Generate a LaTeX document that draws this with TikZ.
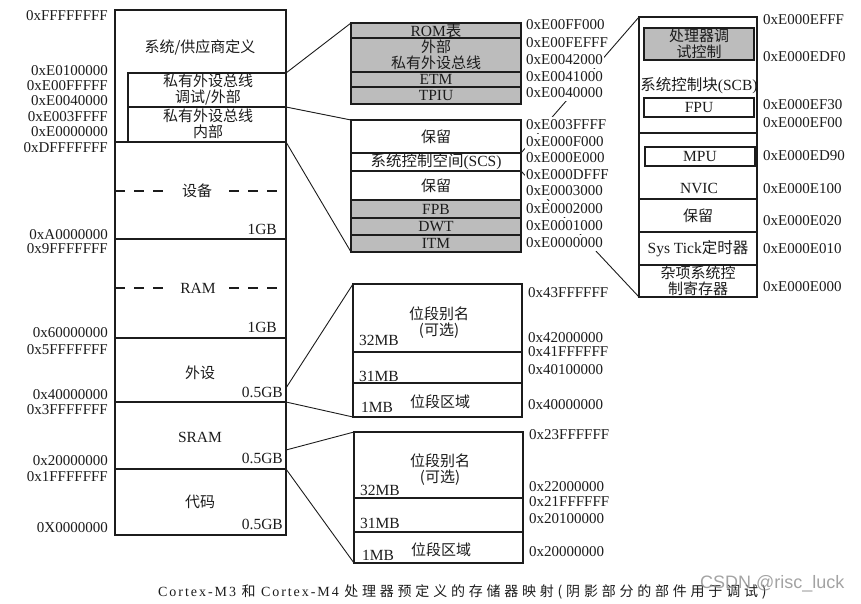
\documentclass[tikz,border=0pt]{standalone}
\usepackage{fontspec}
\setmainfont{Liberation Serif}
\newfontfamily\zhfont{Noto Sans CJK SC}
\newfontfamily\capfont{Liberation Serif}[LetterSpace=14]
\newfontfamily\capzhfont{Noto Sans CJK SC}[LetterSpace=27]
\newfontfamily\wmfont{Liberation Sans}
\newcommand\zh[1]{{\zhfont #1}}
\newcommand\czh[1]{{\capzhfont #1}}
\definecolor{shade}{RGB}{188,188,188}
\definecolor{ink}{RGB}{28,28,28}
\begin{document}
\begin{tikzpicture}[x=1pt,y=-1pt,
  box/.style={draw=ink, line width=1.1pt, fill=white, inner sep=0pt, outer sep=0pt},
  shaded/.style={box, fill=shade},
  conn/.style={draw=ink, line width=0.9pt},
  addr/.style={font=\fontsize{15}{15}\selectfont, text=ink, inner xsep=1pt, inner ysep=3pt, fill=white},
  laddr/.style={addr, anchor=east},
  raddr/.style={addr, anchor=west},
  lbl/.style={font=\fontsize{15.5}{16}\selectfont, text=ink, inner sep=0pt, align=center},
  zhl/.style={font=\zhfont\fontsize{15}{16}\selectfont, text=ink, inner sep=0pt, align=center},
  dsep/.style={draw=ink, line width=1.1pt, dash pattern=on 10pt off 9pt},
]
\useasboundingbox (0,0) rectangle (861,603);

% ---------- left memory column ----------
\node[box, minimum width=171, minimum height=132] (sysreg) at (200.5,76) {};
\node[box, minimum width=158, minimum height=34] (ppbx) at (207,90) {};
\node[box, minimum width=158, minimum height=35] (ppbi) at (207,124.5) {};
\node[box, minimum width=171, minimum height=97] (devreg) at (200.5,190.5) {};
\node[box, minimum width=171, minimum height=99] (ramreg) at (200.5,288.5) {};
\node[box, minimum width=171, minimum height=64] (perreg) at (200.5,370) {};
\node[box, minimum width=171, minimum height=67] (sramreg) at (200.5,435.5) {};
\node[box, minimum width=171, minimum height=66] (codereg) at (200.5,502) {};

\node[zhl] (tsys) at (200,47) {系统/供应商定义};
\node[zhl] (tppbx) at (208,89.5) {私有外设总线\\调试/外部};
\node[zhl] (tppbi) at (208,123.5) {私有外设总线\\内部};

\draw[dsep] (devreg.west |- 0,191) -- (devreg.east |- 0,191);
\node[zhl, fill=white, inner xsep=13pt, inner ysep=2pt] (tdev) at (197,191) {设备};
\node[lbl, anchor=east] (g1) at (277,229) {1GB};
\draw[dsep] (ramreg.west |- 0,288) -- (ramreg.east |- 0,288);
\node[lbl, fill=white, inner xsep=12pt, inner ysep=2pt] (tram) at (198,288) {RAM};
\node[lbl, anchor=east] (g2) at (277,327) {1GB};
\node[zhl] (tper) at (200,373) {外设};
\node[lbl, anchor=east] (g3) at (283,392) {0.5GB};
\node[lbl] (tsram) at (200,437) {SRAM};
\node[lbl, anchor=east] (g4) at (283,458) {0.5GB};
\node[zhl] (tcode) at (200,502) {代码};
\node[lbl, anchor=east] (g5) at (283,524) {0.5GB};

\foreach \y/\t [count=\i] in {16/0xFFFFFFFF, 71/0xE0100000, 86/0xE00FFFFF,
  101/0xE0040000, 117/0xE003FFFF, 132/0xE0000000, 148/0xDFFFFFFF,
  235/0xA0000000, 249/0x9FFFFFFF, 333/0x60000000, 350/0x5FFFFFFF,
  395/0x40000000, 410/0x3FFFFFFF, 461/0x20000000, 477/0x1FFFFFFF, 528/0X0000000}
  \node[laddr] (la\i) at (109,\y) {\t};

% ---------- connectors (drawn beneath the blocks) ----------
\coordinate (bbsrcA) at (286,388);
\coordinate (bbsrcB) at (286,450);
\path (436,30.5) node[minimum width=170, minimum height=15, inner sep=0pt, outer sep=0pt] (m1top) {};
\path (436,136.5) node[minimum width=170, minimum height=33, inner sep=0pt, outer sep=0pt] (m2top) {};
\path (436,243.5) node[minimum width=170, minimum height=17, inner sep=0pt, outer sep=0pt] (m2bot) {};
\path (436,162) node[minimum width=170, minimum height=18, inner sep=0pt, outer sep=0pt] (scsarea) {};
\path (698,157) node[minimum width=118, minimum height=280, inner sep=0pt, outer sep=0pt] (scbarea) {};
\path (437.5,318) node[minimum width=169, minimum height=68, inner sep=0pt, outer sep=0pt] (bb1top) {};
\path (437.5,400) node[minimum width=169, minimum height=34, inner sep=0pt, outer sep=0pt] (bb1bot) {};
\path (438.5,465) node[minimum width=169, minimum height=66, inner sep=0pt, outer sep=0pt] (bb2top) {};
\path (438.5,547.5) node[minimum width=169, minimum height=31, inner sep=0pt, outer sep=0pt] (bb2bot) {};

\draw[conn] (ppbx.north east) -- (m1top.north west);
\draw[conn] (ppbi.north east) -- (m2top.north west);
\draw[conn] (ppbi.south east) -- (m2bot.south west);
\draw[conn] (scsarea.north east) -- (scbarea.north west);
\draw[conn] (scsarea.south east) -- (scbarea.south west);
\draw[conn] (bbsrcA) -- (bb1top.north west);
\draw[conn] (perreg.south east) -- (bb1bot.south west);
\draw[conn] (bbsrcB) -- (bb2top.north west);
\draw[conn] (sramreg.south east) -- (bb2bot.south west);

% ---------- middle block 1 (debug / external PPB) ----------
\node[shaded, minimum width=170, minimum height=15, lbl] (rom) at (436,30.5) {ROM\zh{表}};
\node[shaded, minimum width=170, minimum height=34, zhl] (extppb) at (436,55) {外部\\私有外设总线};
\node[shaded, minimum width=170, minimum height=15, lbl] (etm) at (436,79.5) {ETM};
\node[shaded, minimum width=170, minimum height=17, lbl] (tpiu) at (436,95.5) {TPIU};
\foreach \y/\t [count=\i] in {25/0xE00FF000, 43/0xE00FEFFF, 60/0xE0042000, 77/0xE0041000, 93/0xE0040000}
  \node[raddr] (ma\i) at (525,\y) {\t};

% ---------- middle block 2 (internal PPB) ----------
\node[box, minimum width=170, minimum height=33, zhl] (res1) at (436,136.5) {保留};
\node[box, minimum width=170, minimum height=18, lbl] (scs) at (436,162) {\zh{系统控制空间}(SCS)};
\node[box, minimum width=170, minimum height=29, zhl] (res2) at (436,185.5) {保留};
\node[shaded, minimum width=170, minimum height=18, lbl] (fpb) at (436,209) {FPB};
\node[shaded, minimum width=170, minimum height=17, lbl] (dwt) at (436,226.5) {DWT};
\node[shaded, minimum width=170, minimum height=17, lbl] (itm) at (436,243.5) {ITM};
\foreach \y/\t [count=\i] in {125/0xE003FFFF, 142/0xE000F000, 158/0xE000E000, 175/0xE000DFFF,
  191/0xE0003000, 209/0xE0002000, 226/0xE0001000, 243/0xE0000000}
  \node[raddr] (mb\i) at (525,\y) {\t};

% ---------- right block (SCS detail) ----------
\node[box, minimum width=118, minimum height=116] (scbreg) at (698,75) {};
\node[box, minimum width=118, minimum height=66] (nvicreg) at (698,166) {};
\node[box, minimum width=118, minimum height=33, zhl] (res3) at (698,215.5) {保留};
\node[box, minimum width=118, minimum height=33, lbl] (systick) at (698,248.5) {Sys Tick\zh{定时器}};
\node[box, minimum width=118, minimum height=32, zhl] (misc) at (698,281) {杂项系统控\\制寄存器};
\node[shaded, minimum width=110, minimum height=32, zhl] (dbgctl) at (699,44) {处理器调\\试控制};
\node[lbl] (tscb) at (699,86) {\zh{系统控制块}(SCB)};
\node[box, minimum width=110, minimum height=19, lbl] (fpu) at (699,107.5) {FPU};
\node[box, minimum width=110, minimum height=19, lbl] (mpu) at (700,156.5) {MPU};
\node[lbl] (tnvic) at (699,188) {NVIC};
\foreach \y/\t [count=\i] in {20/0xE000EFFF, 57/0xE000EDF0, 105/0xE000EF30, 123/0xE000EF00,
  156/0xE000ED90, 189/0xE000E100, 221/0xE000E020, 249/0xE000E010, 287/0xE000E000}
  \node[raddr] (ra\i) at (762,\y) {\t};

% ---------- bit-band block 1 ----------
\node[box, minimum width=169, minimum height=68] (bb1a) at (437.5,318) {};
\node[box, minimum width=169, minimum height=31] (bb1b) at (437.5,367.5) {};
\node[box, minimum width=169, minimum height=34] (bb1c) at (437.5,400) {};
\node[zhl] (tbb1a) at (439,323) {位段别名\\(可选)};
\node[lbl, anchor=west] (s1a) at (359,340) {32MB};
\node[lbl, anchor=west] (s1b) at (359,376) {31MB};
\node[lbl, anchor=west] (s1c) at (361,407) {1MB};
\node[zhl] (tbb1c) at (440,402) {位段区域};
\foreach \y/\t [count=\i] in {293/0x43FFFFFF, 338/0x42000000, 352/0x41FFFFFF, 370/0x40100000, 405/0x40000000}
  \node[raddr] (ba\i) at (527,\y) {\t};

% ---------- bit-band block 2 ----------
\node[box, minimum width=169, minimum height=66] (bb2a) at (438.5,465) {};
\node[box, minimum width=169, minimum height=34] (bb2b) at (438.5,515) {};
\node[box, minimum width=169, minimum height=31] (bb2c) at (438.5,547.5) {};
\node[zhl] (tbb2a) at (440,470) {位段别名\\(可选)};
\node[lbl, anchor=west] (s2a) at (360,490) {32MB};
\node[lbl, anchor=west] (s2b) at (360,523) {31MB};
\node[lbl, anchor=west] (s2c) at (362,555) {1MB};
\node[zhl] (tbb2c) at (441,550) {位段区域};
\foreach \y/\t [count=\i] in {435/0x23FFFFFF, 487/0x22000000, 502/0x21FFFFFF, 519/0x20100000, 552/0x20000000}
  \node[raddr] (bc\i) at (528,\y) {\t};

% ---------- caption ----------
\node[anchor=west, text=ink, inner sep=0pt, font=\capfont\fontsize{14}{14}\selectfont] (cap) at (158,592)
  {Cortex-M3 \czh{和} Cortex-M4 \czh{处理器预定义的存储器映射(阴影部分的部件用于调试)}};
\node[anchor=west, inner sep=0pt, text=black!45, opacity=0.8, font=\wmfont\fontsize{18}{18}\selectfont] (wm) at (700,584) {CSDN @risc\_luck};
\end{tikzpicture}
\end{document}
